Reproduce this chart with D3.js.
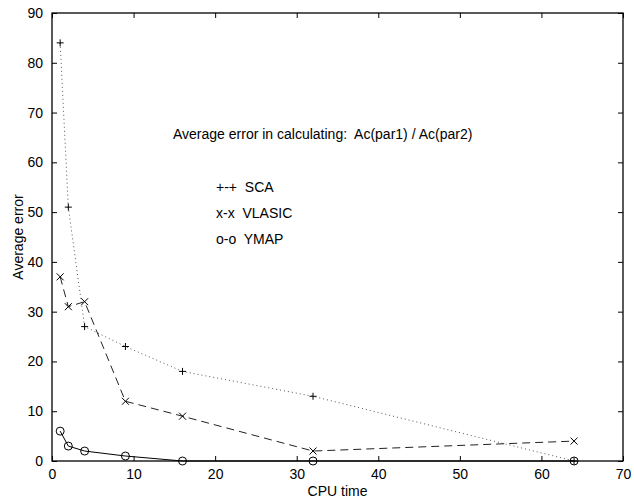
<!DOCTYPE html>
<html>
<head>
<meta charset="utf-8">
<script src="https://d3js.org/d3.v7.min.js"></script>
<style>
  body { margin: 0; background: #fff; }
  text { font-family: "Liberation Sans", Arial, sans-serif; }
</style>
</head>
<body>
<div id="chart"></div>
<script>
// values
var cpuTime = [1, 2, 4, 9, 16, 32, 64];
var scaErr = [84, 51, 27, 23, 18, 13, 0];
var vlasicErr = [37, 31, 32, 12, 9, 2, 4];
var ymapErr = [6, 3, 2, 1, 0, 0, 0];
var xTicks = [0, 10, 20, 30, 40, 50, 60, 70];
var yTicks = [0, 10, 20, 30, 40, 50, 60, 70, 80, 90];
var legendLabels = ["+-+  SCA", "x-x  VLASIC", "o-o  YMAP"];

var width = 634, height = 504;
var margin = { top: 13, right: 11, bottom: 43, left: 52 };

var svg = d3.select("#chart").append("svg")
    .attr("width", width)
    .attr("height", height);

var x = d3.scaleLinear().domain([0, 70]).range([margin.left, width - margin.right]);
var y = d3.scaleLinear().domain([0, 90]).range([height - margin.bottom, margin.top]);

var fontSize = "14px";

// box
svg.append("rect")
    .attr("x", x(0)).attr("y", y(90))
    .attr("width", x(70) - x(0)).attr("height", y(0) - y(90))
    .attr("fill", "none").attr("stroke", "#000").attr("stroke-width", 1.3);

// axes with inward ticks
var xAxis = svg.append("g")
    .attr("transform", "translate(0," + y(0) + ")")
    .call(d3.axisBottom(x).tickValues(xTicks).tickSize(-5).tickPadding(10));
var xTop = svg.append("g")
    .attr("transform", "translate(0," + y(90) + ")")
    .call(d3.axisTop(x).tickValues(xTicks).tickSize(-5).tickFormat(""));
var yAxis = svg.append("g")
    .attr("transform", "translate(" + x(0) + ",0)")
    .call(d3.axisLeft(y).tickValues(yTicks).tickSize(-5).tickPadding(9));
var yRight = svg.append("g")
    .attr("transform", "translate(" + x(70) + ",0)")
    .call(d3.axisRight(y).tickValues(yTicks).tickSize(-5).tickFormat(""));

[xAxis, xTop, yAxis, yRight].forEach(function (a) {
    a.select(".domain").remove();
    a.selectAll("text").attr("font-size", fontSize).attr("fill", "#000")
        .style("font-family", "Liberation Sans, Arial, sans-serif");
    a.selectAll("line").attr("stroke", "#000");
});
xAxis.selectAll("text").attr("dy", "0.55em");

// lines
var line = d3.line()
    .x(function (d) { return x(d[0]); })
    .y(function (d) { return y(d[1]); });

function pts(vals) {
    return cpuTime.map(function (t, i) { return [t, vals[i]]; });
}

svg.append("path").datum(pts(scaErr))
    .attr("d", line).attr("fill", "none")
    .attr("stroke", "#555").attr("stroke-width", 1).attr("stroke-dasharray", "1,3");

svg.append("path").datum(pts(vlasicErr))
    .attr("d", line).attr("fill", "none")
    .attr("stroke", "#222").attr("stroke-width", 1).attr("stroke-dasharray", "8,5");

svg.append("path").datum(pts(ymapErr))
    .attr("d", line).attr("fill", "none")
    .attr("stroke", "#000").attr("stroke-width", 1);

// markers
var s = 3.5;
svg.selectAll(".plus").data(pts(scaErr)).enter().append("path")
    .attr("class", "plus")
    .attr("d", function (d) {
        var cx = x(d[0]), cy = y(d[1]);
        return "M" + (cx - s) + "," + cy + "H" + (cx + s) + "M" + cx + "," + (cy - s) + "V" + (cy + s);
    })
    .attr("stroke", "#000").attr("stroke-width", 1);

svg.selectAll(".cross").data(pts(vlasicErr)).enter().append("path")
    .attr("class", "cross")
    .attr("d", function (d) {
        var cx = x(d[0]), cy = y(d[1]);
        return "M" + (cx - s) + "," + (cy - s) + "L" + (cx + s) + "," + (cy + s) +
            "M" + (cx - s) + "," + (cy + s) + "L" + (cx + s) + "," + (cy - s);
    })
    .attr("stroke", "#000").attr("stroke-width", 1);

svg.selectAll(".circ").data(pts(ymapErr)).enter().append("circle")
    .attr("class", "circ")
    .attr("cx", function (d) { return x(d[0]); })
    .attr("cy", function (d) { return y(d[1]); })
    .attr("r", 4)
    .attr("fill", "none").attr("stroke", "#000").attr("stroke-width", 1);

// annotation + legend text
svg.append("text")
    .attr("x", 173).attr("y", 139)
    .attr("font-size", fontSize)
    .style("white-space", "pre")
    .text("Average error in calculating:  Ac(par1) / Ac(par2)");

svg.selectAll(".leg").data(legendLabels).enter().append("text")
    .attr("class", "leg")
    .attr("x", 216)
    .attr("y", function (d, i) { return 192 + i * 26; })
    .attr("font-size", fontSize)
    .style("white-space", "pre")
    .text(function (d) { return d; });

// axis titles
svg.append("text")
    .attr("x", x(35)).attr("y", 496)
    .attr("text-anchor", "middle")
    .attr("font-size", fontSize)
    .text("CPU time");

svg.append("text")
    .attr("transform", "translate(23," + y(45) + ") rotate(-90)")
    .attr("text-anchor", "middle")
    .attr("font-size", fontSize)
    .text("Average error");
</script>
</body>
</html>
